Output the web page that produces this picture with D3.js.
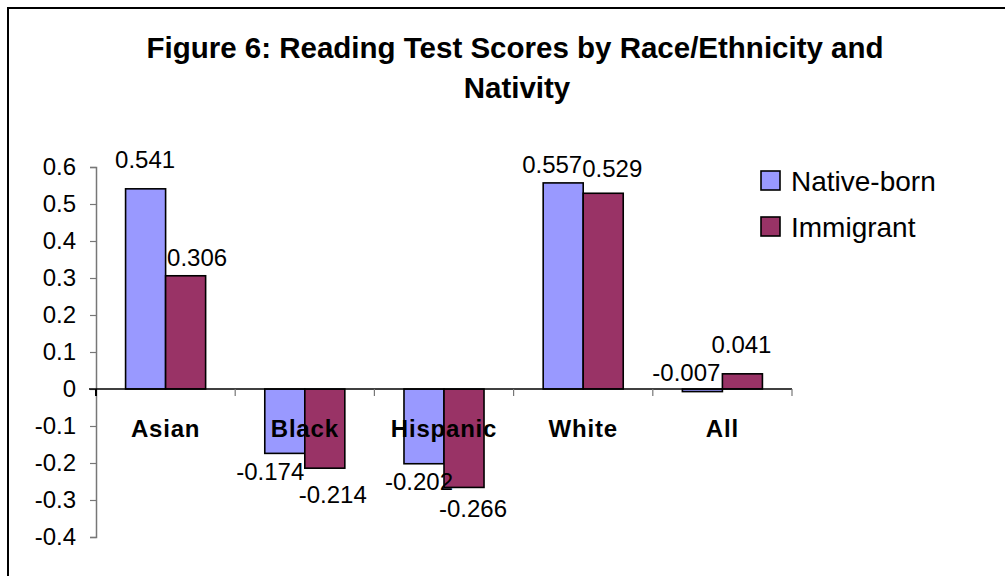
<!DOCTYPE html>
<html>
<head>
<meta charset="utf-8">
<script src="https://cdn.jsdelivr.net/npm/d3@7"></script>
<style>
  html, body { margin: 0; padding: 0; background: #fff; }
  svg { display: block; font-family: "Liberation Sans", Arial, sans-serif; }
</style>
</head>
<body>
<svg id="chart" width="1005" height="576"></svg>
<script>
// Reading test scores (standardised) by group and nativity
const categories = ["Asian", "Black", "Hispanic", "White", "All"];
const seriesNames = ["Native-born", "Immigrant"];
const nativeBorn = [0.541, -0.174, -0.202, 0.557, -0.007];
const immigrant = [0.306, -0.214, -0.266, 0.529, 0.041];
const yTicks = [0.6, 0.5, 0.4, 0.3, 0.2, 0.1, 0, -0.1, -0.2, -0.3, -0.4];
const yTickLabels = ["0.6", "0.5", "0.4", "0.3", "0.2", "0.1", "0", "-0.1", "-0.2", "-0.3", "-0.4"];
const colors = ["#9999FF", "#993366"];

// label placement relative to the end of each bar: [dx, dy] to the text baseline centre
const labelShift = [
  [[-0.5, -21], [-14.5, 27], [-5, 26], [-11, -10], [-16, -11]],
  [[11.5, -10], [8, 35], [9, 30], [9, -16], [-1, -21]]
];

const values = [nativeBorn, immigrant];
const svg = d3.select("#chart");

// frame
svg.append("path")
  .attr("d", "M8,580 L8,8 L1005,8")
  .attr("fill", "none").attr("stroke", "#000").attr("stroke-width", 2);

// title
const title = svg.append("text")
  .attr("text-anchor", "middle")
  .attr("font-weight", "bold")
  .attr("font-size", 29.5)
  .attr("fill", "#000");
title.append("tspan").attr("x", 515).attr("y", 58)
  .text("Figure 6: Reading Test Scores by Race/Ethnicity and");
title.append("tspan").attr("x", 517).attr("y", 98).text("Nativity");

const plot = { left: 96, right: 792, top: 167, bottom: 537 };

const x = d3.scaleBand().domain(categories).range([plot.left, plot.right]).padding(0);
const groupW = x.step() * 0.575;
const x1 = d3.scaleBand().domain(seriesNames)
  .range([(x.step() - groupW) / 2, (x.step() + groupW) / 2]).padding(0);
const y = d3.scaleLinear().domain([-0.4, 0.6]).range([plot.bottom, plot.top]);

// y axis
const yAxis = d3.axisLeft(y).tickValues(yTicks).tickSize(6).tickPadding(14)
  .tickFormat((d, i) => yTickLabels[i]);
const gy = svg.append("g").attr("transform", `translate(${plot.left},0)`).call(yAxis);
gy.select(".domain").attr("stroke", "#777").attr("stroke-width", 1.5);
gy.selectAll(".tick line").attr("stroke", "#777").attr("stroke-width", 1.2);
gy.selectAll(".tick text").attr("font-size", 24).attr("fill", "#000")
  .attr("font-family", "Liberation Sans, Arial, sans-serif");

// bars
const groups = svg.append("g").selectAll("g")
  .data(categories).join("g")
  .attr("transform", d => `translate(${x(d)},0)`);

seriesNames.forEach((s, si) => {
  groups.append("rect")
    .attr("x", x1(s))
    .attr("width", x1.bandwidth())
    .attr("y", (d, i) => y(Math.max(0, values[si][i])))
    .attr("height", (d, i) => Math.abs(y(values[si][i]) - y(0)))
    .attr("fill", colors[si])
    .attr("stroke", "#000")
    .attr("stroke-width", 1.6);
});

// zero line and category ticks
svg.append("line")
  .attr("x1", plot.left - 7).attr("x2", plot.right)
  .attr("y1", y(0)).attr("y2", y(0))
  .attr("stroke", "#000").attr("stroke-width", 1.3);
const catEdges = categories.map(c => x(c)).concat([plot.right]);
svg.append("g").selectAll("line").data(catEdges).join("line")
  .attr("x1", d => d).attr("x2", d => d)
  .attr("y1", y(0)).attr("y2", y(0) + 7)
  .attr("stroke", (d, i) => i === 0 ? "#000" : "#777").attr("stroke-width", (d, i) => i === 0 ? 2 : 1.2);

// category labels
svg.append("g").selectAll("text").data(categories).join("text")
  .attr("x", d => x(d) + x.step() / 2)
  .attr("y", y(0) + 48)
  .attr("text-anchor", "middle")
  .attr("font-weight", "bold")
  .attr("font-size", 24)
  .attr("letter-spacing", 0.8)
  .attr("fill", "#000")
  .text(d => d);

// value labels
seriesNames.forEach((s, si) => {
  svg.append("g").selectAll("text").data(categories).join("text")
    .attr("x", (d, i) => x(d) + x1(s) + x1.bandwidth() / 2 + labelShift[si][i][0])
    .attr("y", (d, i) => y(values[si][i]) + labelShift[si][i][1])
    .attr("text-anchor", "middle")
    .attr("font-size", 24)
    .attr("fill", "#000")
    .text((d, i) => values[si][i].toFixed(3));
});

// legend
const legend = svg.append("g").attr("transform", "translate(761,171)");
seriesNames.forEach((s, si) => {
  const g = legend.append("g").attr("transform", `translate(0,${si * 46})`);
  g.append("rect").attr("x", 0).attr("y", 0).attr("width", 19).attr("height", 19)
    .attr("fill", colors[si]).attr("stroke", "#000").attr("stroke-width", 1.6);
  g.append("text").attr("x", 30).attr("y", 19.5).attr("font-size", 28)
    .attr("fill", "#000").text(s);
});
</script>
</body>
</html>
